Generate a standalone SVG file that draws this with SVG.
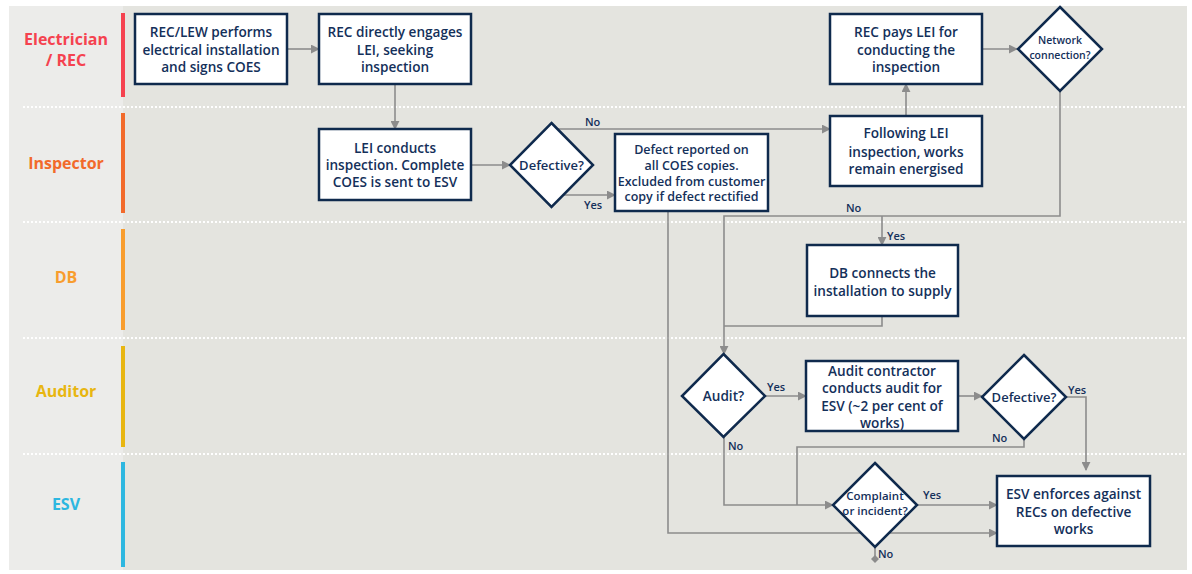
<svg xmlns="http://www.w3.org/2000/svg" width="1192" height="574" viewBox="0 0 1192 574">
<defs>
<style>
.node rect, .node polygon { fill:#ffffff; stroke:#0f2a4d; stroke-width:2.5; }
.t { font-family:"Open Sans","Liberation Sans",sans-serif; font-weight:600; fill:#14305a; text-anchor:middle; }
.m { font-size:13.6px; }
.lane { font-family:"Open Sans","Liberation Sans",sans-serif; font-weight:700; font-size:16px; text-anchor:middle; }
.lbl { font-family:"Open Sans","Liberation Sans",sans-serif; font-weight:600; font-size:11px; fill:#14305a; }
.c { fill:none; stroke:#8c8c8c; stroke-width:1.6; }
.div { stroke:#ffffff; stroke-width:2; stroke-dasharray:2 2; }
</style>
<marker id="ah" viewBox="0 0 10 10" refX="9" refY="5" markerWidth="9" markerHeight="9" markerUnits="userSpaceOnUse" orient="auto">
<path d="M0,0 L10,5 L0,10 z" fill="#8c8c8c"/>
</marker>
<marker id="dm" viewBox="0 0 10 10" refX="5" refY="5" markerWidth="8" markerHeight="8" markerUnits="userSpaceOnUse" orient="auto">
<path d="M5,0 L10,5 L5,10 L0,5 z" fill="#8c8c8c"/>
</marker>
</defs>
<rect x="0" y="0" width="1192" height="574" fill="#ffffff"/>
<rect x="9" y="6" width="1178" height="564" fill="#e4e4df"/>
<rect x="9" y="6" width="114" height="564" fill="#ececea"/>
<g id="dividers">
<line class="div" x1="23" y1="107" x2="1187" y2="107"/>
<line class="div" x1="23" y1="222" x2="1187" y2="222"/>
<line class="div" x1="23" y1="338" x2="1187" y2="338"/>
<line class="div" x1="23" y1="454" x2="1187" y2="454"/>
</g>
<g id="lanes">
<rect x="121" y="13" width="4" height="84" fill="#f5424f"/>
<rect x="121" y="113" width="4" height="100" fill="#f26a2b"/>
<rect x="121" y="229" width="4" height="101" fill="#f89d2e"/>
<rect x="121" y="346" width="4" height="101" fill="#e8b611"/>
<rect x="121" y="462" width="4" height="105" fill="#2db7e0"/>
<text class="lane" x="66" y="45" fill="#f5424f">Electrician</text>
<text class="lane" x="66" y="66" fill="#f5424f">/ REC</text>
<text class="lane" x="66" y="169" fill="#f26a2b">Inspector</text>
<text class="lane" x="66" y="283" fill="#f89d2e">DB</text>
<text class="lane" x="66" y="397" fill="#e8b611">Auditor</text>
<text class="lane" x="66" y="510" fill="#2db7e0">ESV</text>
</g>
<g id="connectors">
<path class="c" d="M287,49 L319,49" marker-end="url(#ah)"/>
<path class="c" d="M395,84 L395,129" marker-end="url(#ah)"/>
<path class="c" d="M471,165 L510,165" marker-end="url(#ah)"/>
<path class="c" d="M557,129 L830,129" marker-end="url(#ah)"/>
<path class="c" d="M564,195 L615,195" marker-end="url(#ah)"/>
<path class="c" d="M906,116 L906,84" marker-end="url(#ah)"/>
<path class="c" d="M982,49 L1017,49" marker-end="url(#ah)"/>
<path class="c" d="M1060,91 L1060,216 L724,216 L724,354" marker-end="url(#ah)"/>
<path class="c" d="M882,216 L882,245" marker-end="url(#ah)"/>
<path class="c" d="M882,316 L882,326 L724,326"/>
<path class="c" d="M765,396 L806,396" marker-end="url(#ah)"/>
<path class="c" d="M958,396 L982,396" marker-end="url(#ah)"/>
<path class="c" d="M1066,397 L1086,397 L1086,470" marker-end="url(#ah)"/>
<path class="c" d="M1024,439 L1024,447 L797,447 L797,505"/>
<path class="c" d="M724,437 L724,505 L833,505" marker-end="url(#ah)"/>
<path class="c" d="M917,505 L997,505" marker-end="url(#ah)"/>
<path class="c" d="M668,211 L668,533 L997,533" marker-end="url(#ah)"/>
<path class="c" d="M875,547 L875,559" marker-end="url(#dm)"/>
<text class="lbl" x="585" y="126">No</text>
<text class="lbl" x="584" y="209">Yes</text>
<text class="lbl" x="846" y="212">No</text>
<text class="lbl" x="887" y="240">Yes</text>
<text class="lbl" x="767" y="391">Yes</text>
<text class="lbl" x="728" y="450">No</text>
<text class="lbl" x="1068" y="394">Yes</text>
<text class="lbl" x="992" y="442">No</text>
<text class="lbl" x="923" y="499">Yes</text>
<text class="lbl" x="878" y="558">No</text>
</g>
<g id="n1" class="node"><rect x="135" y="14" width="152" height="70"/>
<text class="t m" x="211" y="37">REC/LEW performs</text>
<text class="t m" x="211" y="55">electrical installation</text>
<text class="t m" x="211" y="72">and signs COES</text></g>
<g id="n2" class="node"><rect x="319" y="14" width="152" height="70"/>
<text class="t m" x="395" y="37">REC directly engages</text>
<text class="t m" x="395" y="55">LEI, seeking</text>
<text class="t m" x="395" y="72">inspection</text></g>
<g id="n3" class="node"><rect x="319" y="129" width="152" height="71"/>
<text class="t m" x="395" y="153">LEI conducts</text>
<text class="t m" x="395" y="170">inspection. Complete</text>
<text class="t m" x="395" y="187">COES is sent to ESV</text></g>
<g id="d1" class="node"><polygon points="551.5,123 593,165 551.5,207 510,165"/>
<text class="t" font-size="13" x="551.5" y="170">Defective?</text></g>
<g id="n4" class="node"><rect x="615" y="134" width="153" height="77"/>
<text class="t" font-size="12.5" x="691.5" y="154">Defect reported on</text>
<text class="t" font-size="12.5" x="691.5" y="170">all COES copies.</text>
<text class="t" font-size="12.5" x="691.5" y="186">Excluded from customer</text>
<text class="t" font-size="12.5" x="691.5" y="201">copy if defect rectified</text></g>
<g id="n5" class="node"><rect x="830" y="116" width="152" height="70"/>
<text class="t m" x="906" y="138">Following LEI</text>
<text class="t m" x="906" y="157">inspection, works</text>
<text class="t m" x="906" y="174">remain energised</text></g>
<g id="n6" class="node"><rect x="830" y="14" width="152" height="70"/>
<text class="t m" x="906" y="37">REC pays LEI for</text>
<text class="t m" x="906" y="55">conducting the</text>
<text class="t m" x="906" y="72">inspection</text></g>
<g id="d2" class="node"><polygon points="1060,7 1102,49 1060,91 1018,49"/>
<text class="t" font-size="10.5" x="1060" y="44">Network</text>
<text class="t" font-size="10.5" x="1060" y="59">connection?</text></g>
<g id="n7" class="node"><rect x="807" y="245" width="151" height="71"/>
<text class="t m" x="882.5" y="278">DB connects the</text>
<text class="t m" x="882.5" y="296">installation to supply</text></g>
<g id="d3" class="node"><polygon points="723.5,354 765,396 723.5,437 682,396"/>
<text class="t m" x="723.5" y="401">Audit?</text></g>
<g id="n8" class="node"><rect x="806" y="361" width="152" height="70"/>
<text class="t m" x="882" y="376">Audit contractor</text>
<text class="t m" x="882" y="393">conducts audit for</text>
<text class="t m" x="882" y="411">ESV (~2 per cent of</text>
<text class="t m" x="882" y="428">works)</text></g>
<g id="d4" class="node"><polygon points="1024,355 1066,397 1024,439 982,397"/>
<text class="t" font-size="13" x="1024" y="402">Defective?</text></g>
<g id="d5" class="node"><polygon points="875,463 917,505 875,547 833,505"/>
<text class="t" font-size="11.5" x="875" y="500">Complaint</text>
<text class="t" font-size="11.5" x="875" y="515">or incident?</text></g>
<g id="n9" class="node"><rect x="997" y="476" width="153" height="70"/>
<text class="t m" x="1073.5" y="499">ESV enforces against</text>
<text class="t m" x="1073.5" y="517">RECs on defective</text>
<text class="t m" x="1073.5" y="534">works</text></g>
</svg>
